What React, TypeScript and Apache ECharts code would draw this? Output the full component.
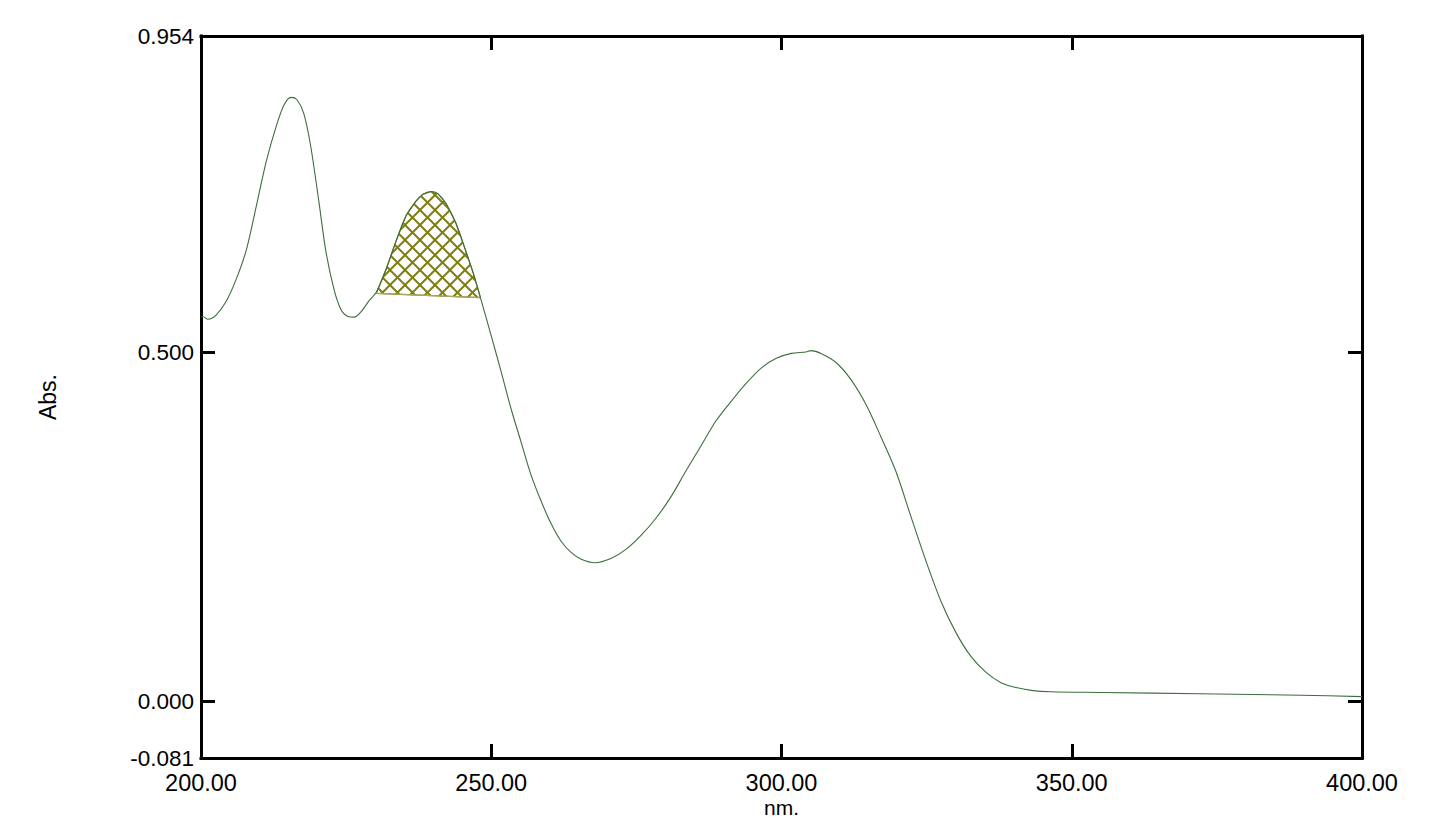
import React, { useEffect, useRef } from "react";
import * as echarts from "echarts";

// Spectrum (nm, Abs.)
const wavelengths = [
  200.0, 200.3, 201.2, 202.6, 204.3, 206.0, 207.8, 209.5, 211.2, 212.9, 214.3, 215.5, 216.5,
  217.7, 218.9, 220.3, 221.5, 222.9, 224.1, 225.3, 226.4, 227.6, 228.9, 230.3, 231.9, 233.6,
  235.3, 237.0, 238.2, 239.6, 240.8, 242.2, 243.9, 245.6, 246.9, 248.1, 250.0, 251.7, 253.4,
  255.1, 256.8, 258.6, 260.3, 262.0, 263.7, 265.5, 267.9, 270.6, 273.2, 275.8, 278.4, 281.0,
  283.5, 286.1, 288.7, 291.3, 293.9, 296.5, 299.1, 301.7, 304.2, 305.1, 306.8, 309.4, 312.0,
  314.6, 317.1, 319.7, 322.3, 324.9, 327.5, 330.1, 332.6, 335.2, 337.8, 340.4, 343.0, 346.4,
  355.0, 372.3, 389.5, 400.0,
];
const absorbance = [
  0.551, 0.552, 0.548, 0.554, 0.573, 0.604, 0.647, 0.709, 0.773, 0.823, 0.855, 0.866, 0.863,
  0.843, 0.796, 0.717, 0.646, 0.591, 0.562, 0.552, 0.551, 0.559, 0.574, 0.588, 0.620, 0.660,
  0.696, 0.717, 0.727, 0.731, 0.728, 0.714, 0.686, 0.646, 0.614, 0.580, 0.524, 0.473, 0.420,
  0.373, 0.326, 0.287, 0.255, 0.230, 0.214, 0.204, 0.199, 0.205, 0.218, 0.238, 0.263, 0.294,
  0.330, 0.366, 0.402, 0.430, 0.456, 0.478, 0.492, 0.499, 0.501, 0.503, 0.499, 0.486, 0.461,
  0.425, 0.380, 0.330, 0.265, 0.201, 0.143, 0.098, 0.065, 0.042, 0.027, 0.020, 0.016, 0.014,
  0.013, 0.011, 0.009, 0.007,
];

// Hatched peak area: start / end wavelength and baseline values at both ends
const hatchRange = [230.3, 248.1];
const hatchBaseline = [0.585, 0.579];

const xTicks = [200, 250, 300, 350, 400];
const xInnerTicks = [250, 300, 350];
const yLabelValues = [-0.081, 0, 0.5, 0.954];
const yTickValues = [0, 0.5];

const X_MIN = 200;
const X_MAX = 400;
const Y_MIN = -0.081;
const Y_MAX = 0.954;

const FONT = "'Liberation Sans', Arial, sans-serif";
const OLIVE = "#7f7f14";

function makeHatch(): HTMLCanvasElement {
  const s = 15;
  const c = document.createElement("canvas");
  c.width = s;
  c.height = s;
  const ctx = c.getContext("2d")!;
  ctx.strokeStyle = OLIVE;
  ctx.lineWidth = 2;
  for (const k of [-s, 0, s]) {
    ctx.beginPath();
    ctx.moveTo(k, 0);
    ctx.lineTo(k + s, s);
    ctx.stroke();
    ctx.beginPath();
    ctx.moveTo(k + s, 0);
    ctx.lineTo(k, s);
    ctx.stroke();
  }
  return c;
}

export default function App() {
  const ref = useRef<HTMLDivElement>(null);
  useEffect(() => {
    if (!ref.current) return;
    const chart = echarts.init(ref.current, null, { renderer: "svg" });
    const hatch = makeHatch();
    const line = wavelengths.map((w, i) => [w, absorbance[i]]);
    const hatchPts = line.filter((p) => p[0] >= hatchRange[0] && p[0] <= hatchRange[1]);

    const axisLine = { show: true, onZero: false, lineStyle: { color: "#000", width: 3, cap: "square" } };
    const tickStyle = { show: true, inside: true, length: 14, lineStyle: { color: "#000", width: 3 } };
    const label = { color: "#000", fontFamily: FONT, fontSize: 22.5 };

    chart.setOption({
      animation: false,
      backgroundColor: "#fff",
      grid: {
        left: 201,
        top: 36,
        width: 1161,
        height: 722,
        containLabel: false,
        outerBoundsMode: "none",
      },
      xAxis: [
        {
          type: "value",
          min: X_MIN,
          max: X_MAX,
          interval: 50,
          position: "bottom",
          name: "nm.",
          nameLocation: "middle",
          nameGap: 39,
          nameMoveOverlap: false,
          nameTextStyle: { ...label, fontSize: 21, lineHeight: 21 },
          axisLine,
          axisTick: { ...tickStyle, customValues: xInnerTicks },
          axisLabel: {
            ...label,
            fontSize: 23.5,
            lineHeight: 24,
            margin: 13,
            showMinLabel: true,
            showMaxLabel: true,
            customValues: xTicks,
            formatter: (v: number) => v.toFixed(2),
          },
          splitLine: { show: false },
        },
        {
          type: "value",
          min: X_MIN,
          max: X_MAX,
          interval: 50,
          position: "top",
          axisLine,
          axisTick: { ...tickStyle, customValues: xInnerTicks },
          axisLabel: { show: false },
          splitLine: { show: false },
        },
      ],
      yAxis: [
        {
          type: "value",
          min: Y_MIN,
          max: Y_MAX,
          position: "left",
          name: "Abs.",
          nameLocation: "middle",
          nameGap: 142,
          nameMoveOverlap: false,
          nameTextStyle: { ...label, fontSize: 23 },
          axisLine,
          axisTick: { ...tickStyle, customValues: yTickValues },
          axisLabel: {
            ...label,
            margin: 7,
            customValues: yLabelValues,
            formatter: (v: number) => v.toFixed(3),
          },
          splitLine: { show: false },
        },
        {
          type: "value",
          min: Y_MIN,
          max: Y_MAX,
          position: "right",
          axisLine,
          axisTick: { ...tickStyle, customValues: yTickValues },
          axisLabel: { show: false },
          splitLine: { show: false },
        },
      ],
      series: [
        {
          type: "custom",
          xAxisIndex: 0,
          yAxisIndex: 0,
          data: [[hatchRange[0], hatchBaseline[0]]],
          z: 1,
          silent: true,
          renderItem: (_params: any, api: any) => {
            const pts = hatchPts.map((p) => api.coord(p));
            const b1 = api.coord([hatchRange[1], hatchBaseline[1]]);
            const b0 = api.coord([hatchRange[0], hatchBaseline[0]]);
            return {
              type: "group",
              children: [
                {
                  type: "polygon",
                  shape: { points: [...pts, b1, b0] },
                  style: {
                    fill: { image: hatch, repeat: "repeat" },
                    stroke: OLIVE,
                    lineWidth: 1.2,
                  },
                },
                {
                  type: "line",
                  shape: { x1: b0[0], y1: b0[1], x2: b1[0], y2: b1[1] },
                  style: { stroke: "#a8a860", lineWidth: 1.2 },
                },
              ],
            };
          },
        },
        {
          type: "line",
          xAxisIndex: 0,
          yAxisIndex: 0,
          data: line,
          smooth: 0.3,
          showSymbol: false,
          symbol: "none",
          z: 2,
          lineStyle: { color: "#3d6e3d", width: 1.1 },
        },
      ],
    });
    return () => chart.dispose();
  }, []);
  return (
    <div
      ref={ref}
      style={{ position: "absolute", left: 0, top: 0, width: 1443, height: 821 }}
    />
  );
}
